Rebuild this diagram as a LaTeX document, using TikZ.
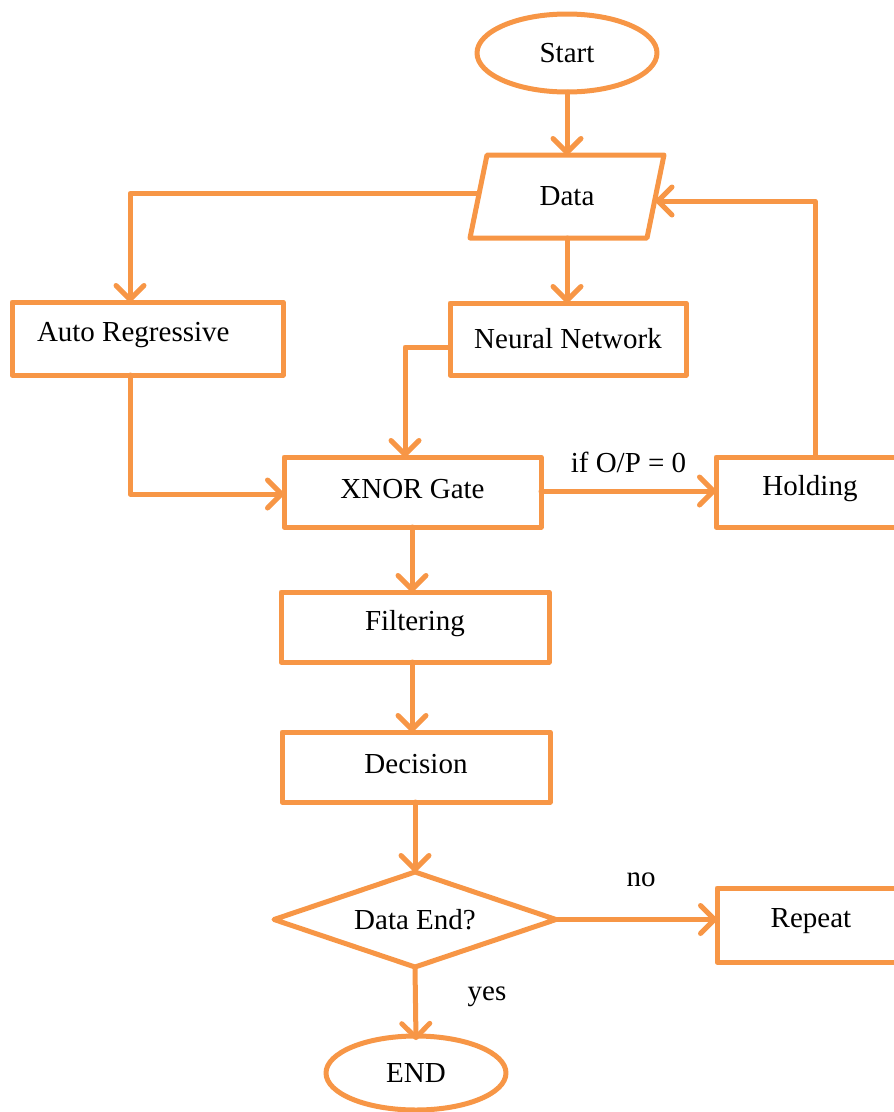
\documentclass[tikz,border=0pt]{standalone}
\usepackage{fontspec}
\setmainfont{Liberation Serif}
\newfontfamily\tnr{Liberation Serif}
\usetikzlibrary{shapes.geometric,arrows.meta,calc}
\definecolor{flow}{RGB}{247,150,70}
\begin{document}
\begin{tikzpicture}[x=1pt,y=-1pt,
  every node/.style={font=\tnr\fontsize{29}{34}\selectfont, inner sep=0pt, outer sep=0pt},
  shp/.style={draw=flow, line width=5pt, line join=round, fill=white},
  box/.style={shp, rectangle},
  oval/.style={shp, ellipse, minimum width=180pt},
  arr/.style={draw=flow, line width=5pt, line cap=round, line join=round,
    -{Straight Barb[length=14pt,width=28pt,line cap=round,line join=round]}}
]
\useasboundingbox (0,0) rectangle (894,1112);

% nodes
\node[oval, minimum height=78pt] (start) at (567,53) {Start};
\node[rectangle, minimum width=177pt, minimum height=83pt] (data) at (567,196.5) {};
\draw[shp] ([xshift=8.5pt]data.north west) -- ([xshift=8.5pt]data.north east)
  -- ([xshift=-8.5pt]data.south east) -- ([xshift=-8.5pt]data.south west) -- cycle;
\node (datatext) at (567,196.5) {Data};
\node[box, minimum width=271pt, minimum height=73pt] (ar) at (147.5,338.5) {};
\node[anchor=west] (artext) at ([xshift=25pt,yshift=3pt]ar.west) {Auto Regressive};
\node[box, minimum width=236pt, minimum height=72pt] (nn) at (568,339) {Neural Network};
\node[box, minimum width=257pt, minimum height=70pt] (xnor) at (412.5,492) {};
\node (xnortext) at (412.5,489) {XNOR Gate};
\node[box, minimum width=198pt, minimum height=70pt] (hold) at (815,492) {};
\node (holdtext) at (810,489) {Holding};
\node[box, minimum width=268pt, minimum height=70pt] (filt) at (415,627) {};
\node (filttext) at (415,624) {Filtering};
\node[box, minimum width=268pt, minimum height=70pt] (dec) at (416,767) {};
\node (dectext) at (416,764) {Decision};
\node[shp, diamond, aspect=2.97, minimum width=282pt, minimum height=95pt] (dia) at (415,919.5) {Data End?};
\node[box, minimum width=200pt, minimum height=74pt] (rep) at (817,925) {};
\node (reptext) at (811,921) {Repeat};
\node[oval, minimum height=74pt] (end) at (416,1073) {END};

% connectors
\draw[arr] (start.south) -- (data.north);
\draw[arr] ([yshift=3pt]data.west) -| ([xshift=-17.5pt]ar.north);
\draw[arr] (data.south) -- (data.south |- nn.north);
\draw[arr] (hold.north) |- ([yshift=-4.5pt]data.east);
\draw[arr] ([yshift=-8pt]nn.west) -| ([xshift=-7.5pt]xnor.north);
\draw[arr] ([xshift=-17.5pt]ar.south) |- ([yshift=-2pt]xnor.west);
\draw[arr] ([yshift=1pt]xnor.east) -- ([yshift=1pt]hold.west)
  node[midway, above=18pt] (ifop) {if O/P = 0};
\draw[arr] ([xshift=-0.5pt]xnor.south) -- ([xshift=-0.5pt]xnor.south |- filt.north);
\draw[arr] ([xshift=-3pt]filt.south) -- ([xshift=-3pt]filt.south |- dec.north);
\draw[arr] ([xshift=-1pt]dec.south) -- ([xshift=-1pt]dec.south |- dia.north);
\draw[arr] (dia.east) -- (dia.east -| rep.west);
\draw[arr] (dia.south) -- ([yshift=-4pt]end.north);

\node (no) at (641,880) {no};
\node (yes) at (487,997) {yes};
\end{tikzpicture}
\end{document}
